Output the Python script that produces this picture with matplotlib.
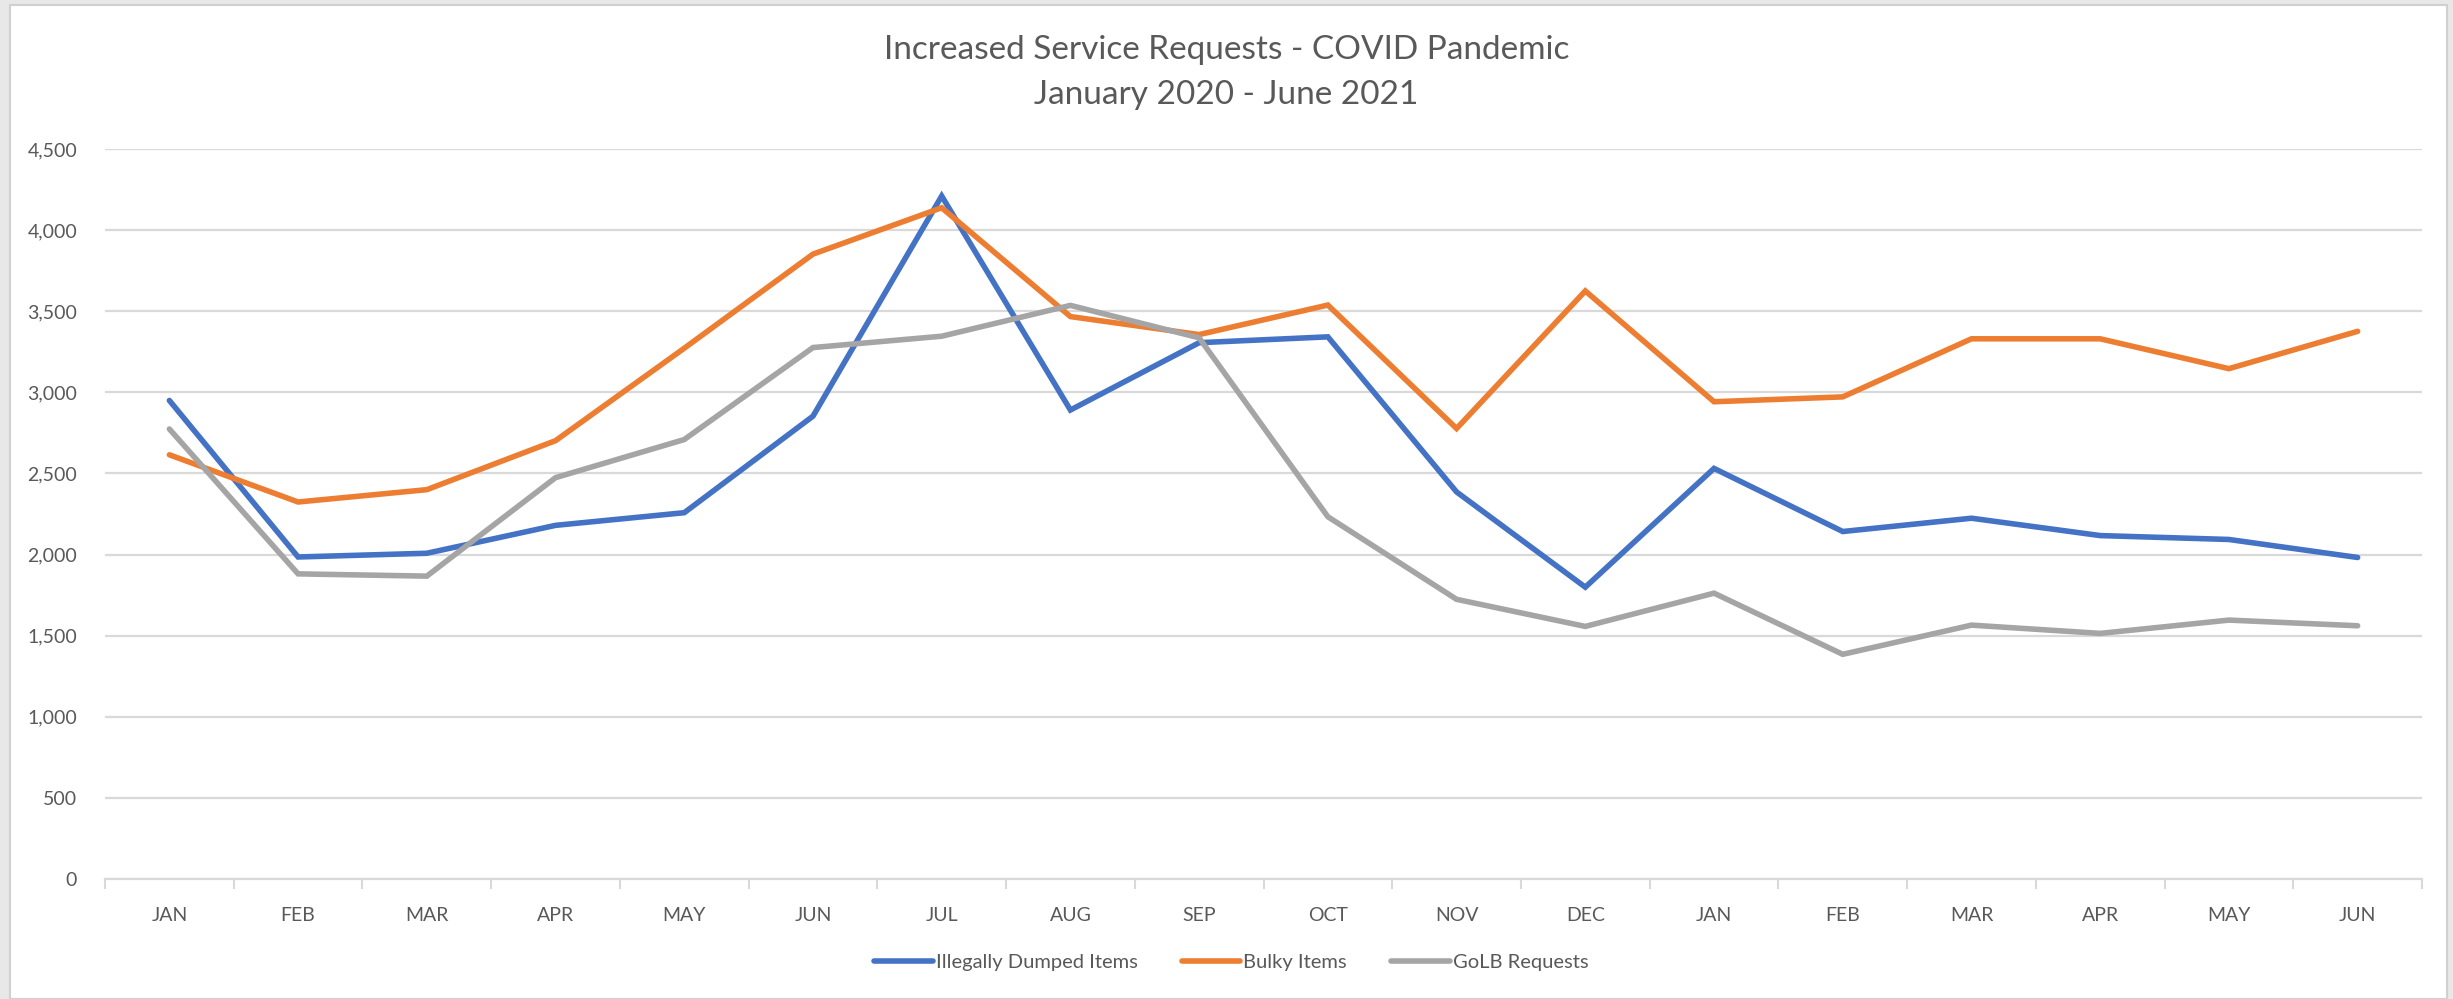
import matplotlib.pyplot as plt
from matplotlib.patches import Rectangle
from matplotlib.ticker import FuncFormatter, MultipleLocator

months = ['JAN', 'FEB', 'MAR', 'APR', 'MAY', 'JUN', 'JUL', 'AUG', 'SEP',
          'OCT', 'NOV', 'DEC', 'JAN', 'FEB', 'MAR', 'APR', 'MAY', 'JUN']

illegally_dumped = [2950, 1985, 2008, 2180, 2258, 2853, 4210, 2891, 3306,
                    3342, 2386, 1799, 2531, 2142, 2224, 2117, 2093, 1982]
bulky_items = [2615, 2324, 2400, 2702, 3272, 3852, 4138, 3467, 3356,
               3538, 2777, 3625, 2942, 2972, 3330, 3330, 3146, 3376]
golb_requests = [2774, 1881, 1867, 2474, 2709, 3276, 3346, 3536, 3336,
                 2233, 1724, 1557, 1762, 1385, 1565, 1514, 1596, 1561]

series = [
    ('Illegally Dumped Items', illegally_dumped, '#4472C4'),
    ('Bulky Items', bulky_items, '#ED7D31'),
    ('GoLB Requests', golb_requests, '#A5A5A5'),
]

text_color = '#595959'
grid_color = '#D9D9D9'
plt.rcParams['font.family'] = ['Lato', 'DejaVu Sans']

W, H = 2453, 999
fig = plt.figure(figsize=(W / 100, H / 100), dpi=100)
fig.patch.set_facecolor('#E7E8E7')
# white chart area with thin border, like the Excel frame
fig.patches.append(Rectangle((10 / W, 0), (2447 - 10) / W, (H - 5) / H,
                             transform=fig.transFigure, facecolor='white',
                             edgecolor='#D0D0D0', linewidth=1.5, zorder=-5))

ax = fig.add_axes([105 / W, 1 - 879 / H, (2422 - 105) / W, (879 - 149) / H])
ax.set_facecolor('none')
ax.set_zorder(2)

x = list(range(len(months)))
for name, vals, color in series:
    ax.plot(x, vals, color=color, lw=4.0, solid_capstyle='round',
            solid_joinstyle='miter', label=name, zorder=3)

ax.set_xlim(-0.5, len(months) - 0.5)
ax.set_ylim(0, 4500)
ax.yaxis.set_major_locator(MultipleLocator(500))
ax.yaxis.set_major_formatter(FuncFormatter(lambda v, p: f'{int(v):,}'))
ax.grid(axis='y', color=grid_color, lw=1.6, zorder=1)

ax.set_xticks(x)
ax.set_xticklabels(months)
ax.set_xticks([i - 0.5 for i in range(len(months) + 1)], minor=True)
ax.tick_params(axis='x', which='major', length=0, pad=20, labelsize=14,
               labelcolor=text_color)
ax.tick_params(axis='x', which='minor', length=7, width=1.5, color=grid_color)
ax.tick_params(axis='y', length=0, pad=20, labelsize=14, labelcolor=text_color)

for side in ['top', 'right', 'left']:
    ax.spines[side].set_visible(False)
ax.spines['bottom'].set_color(grid_color)
ax.spines['bottom'].set_linewidth(1.6)

fig.text(0.5, 1 - 50 / H, 'Increased Service Requests - COVID Pandemic',
         ha='center', va='center', fontsize=24, color=text_color)
fig.text(0.5, 1 - 95 / H, 'January 2020 - June 2021',
         ha='center', va='center', fontsize=24, color=text_color)

fig.legend(loc='center', bbox_to_anchor=(0.502, 1 - 962 / H), ncol=3,
           frameon=False, fontsize=14.5, labelcolor=text_color,
           handlelength=2.9, handletextpad=0.15, columnspacing=2.2)

fig.savefig('out.png', dpi=100, facecolor=fig.get_facecolor())
